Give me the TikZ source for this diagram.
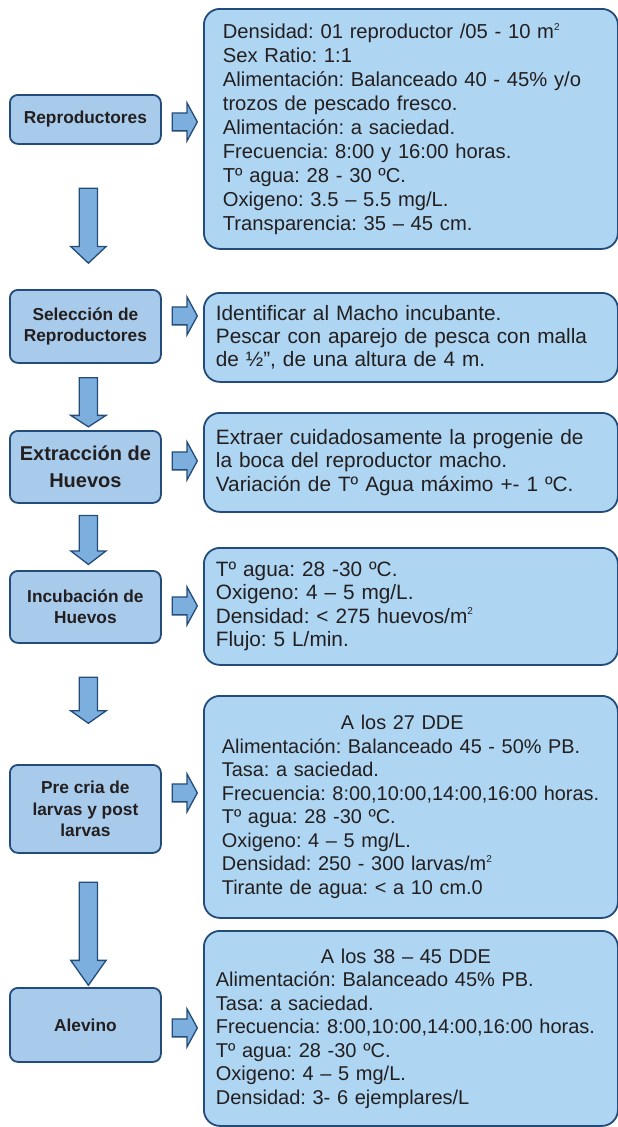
\documentclass[tikz,border=0pt]{standalone}
\usepackage{fontspec}
\setmainfont{Liberation Sans}
\usetikzlibrary{shapes.arrows}
\definecolor{edgeblue}{RGB}{36,76,122}
\definecolor{stepfill}{RGB}{168,203,235}
\definecolor{infofill}{RGB}{174,213,241}
\definecolor{arrowfill}{RGB}{124,175,222}
\definecolor{inktext}{RGB}{35,31,32}
\frenchspacing
\newcommand{\mcuad}{\raisebox{0.8ex}{\fontsize{10}{10}\selectfont 2}}
\tikzset{
  stage/.style={draw=edgeblue, line width=1.8pt, fill=stepfill, rounded corners=8pt,
    anchor=north west, minimum width=151pt, inner sep=0pt, align=center,
    text=inktext, font=\bfseries\fontsize{17.3}{21.5}\selectfont},
  info/.style={draw=edgeblue, line width=1.8pt, fill=infofill, rounded corners=16pt,
    anchor=north west, inner xsep=12pt, inner ysep=0pt, text width=390pt, align=left,
    text=inktext, font=\fontsize{20.8}{23.3}\selectfont},
  rarrow/.style={single arrow, draw=edgeblue, line width=1.3pt, fill=arrowfill,
    inner xsep=0pt, inner ysep=8.3pt, minimum height=25pt,
    single arrow head extend=10pt, single arrow tip angle=123},
  darrow/.style={single arrow, draw=edgeblue, line width=1.3pt, fill=arrowfill,
    inner xsep=0pt, inner ysep=8.5pt, rotate=-90,
    single arrow head extend=8.5pt, single arrow tip angle=#1},
  darrow/.default=100
}
\begin{document}
\begin{tikzpicture}[x=1pt, y=-1pt]
  \useasboundingbox (0,0) rectangle (618,1127);
  % Etapas
  \node[stage, minimum height=49pt] (rep) at (9,94) {Reproductores};
  \node[stage, minimum height=73pt] (sel) at (9,289) {Selección de\\Reproductores};
  \node[stage, minimum height=72pt, font=\bfseries\fontsize{20}{27}\selectfont] (ext) at (9,430) {Extracción de\\Huevos};
  \node[stage, minimum height=72pt] (inc) at (9,570) {Incubación de\\Huevos};
  \node[stage, minimum height=88pt] (pre) at (9,764) {Pre cria de\\larvas y post\\larvas};
  \node[stage, minimum height=74pt] (ale) at (9,987) {Alevino};
  % Detalles de cada etapa
  \node[info, minimum height=240pt, inner xsep=19pt, text width=376pt, font=\fontsize{20.2}{24}\selectfont] (d1) at (203,8)
    {Densidad: 01 reproductor /05 - 10 m\mcuad\\
     Sex Ratio: 1:1\\
     Alimentación: Balanceado 40 - 45\% y/o\\
     trozos de pescado fresco.\\
     Alimentación: a saciedad.\\
     Frecuencia: 8:00 y 16:00 horas.\\
     Tº agua: 28 - 30 ºC.\\
     Oxigeno: 3.5 – 5.5 mg/L.\\
     Transparencia: 35 – 45 cm.};
  \node[info, minimum height=89pt] (d2) at (203,292)
    {Identificar al Macho incubante.\\
     Pescar con aparejo de pesca con malla\\
     de ½”, de una altura de 4 m.};
  \node[info, minimum height=99pt] (d3) at (203,412)
    {Extraer cuidadosamente la progenie de\\
     la boca del reproductor macho.\\
     Variación de Tº Agua máximo +- 1 ºC.};
  \node[info, minimum height=117pt] (d4) at (203,547)
    {Tº agua: 28 -30 ºC.\\
     Oxigeno: 4 – 5 mg/L.\\
     Densidad: < 275 huevos/m\mcuad\\
     Flujo: 5 L/min.};
  \node[info, minimum height=222pt, inner xsep=18pt, text width=378pt, font=\fontsize{19.9}{23.5}\selectfont] (d5) at (203,695)
    {\hspace*{119pt}A los 27 DDE\\
     Alimentación: Balanceado 45 - 50\% PB.\\
     Tasa: a saciedad.\\
     Frecuencia: 8:00,10:00,14:00,16:00 horas.\\
     Tº agua: 28 -30 ºC.\\
     Oxigeno: 4 – 5 mg/L.\\
     Densidad: 250 - 300 larvas/m\mcuad\\
     Tirante de agua: < a 10 cm.0};
  \node[info, minimum height=195pt, font=\fontsize{20}{23.5}\selectfont] (d6) at (203,930)
    {\hspace*{105pt}A los 38 – 45 DDE\\
     Alimentación: Balanceado 45\% PB.\\
     Tasa: a saciedad.\\
     Frecuencia: 8:00,10:00,14:00,16:00 horas.\\
     Tº agua: 28 -30 ºC.\\
     Oxigeno: 4 – 5 mg/L.\\
     Densidad: 3- 6 ejemplares/L};
  % Flechas hacia los detalles
  \path (rep.east) -- (rep.east -| d1.west) node[midway, rarrow, yshift=-2.5pt] {};
  \path (sel.east) -- (sel.east -| d2.west) node[midway, rarrow, yshift=10.5pt] {};
  \path (ext.east) -- (ext.east -| d3.west) node[midway, rarrow, yshift=6pt] {};
  \path (inc.east) -- (inc.east -| d4.west) node[midway, rarrow, yshift=1pt] {};
  \path (pre.east) -- (pre.east -| d5.west) node[midway, rarrow, yshift=16pt] {};
  \path (ale.east) -- (ale.east -| d6.west) node[midway, rarrow, yshift=-3pt] {};
  % Flechas entre etapas
  \path ([xshift=3pt]rep.south) -- ([xshift=3pt]rep.south |- sel.north) node[pos=0.531, darrow=93.5, minimum height=75pt] {};
  \path ([xshift=3pt]sel.south) -- ([xshift=3pt]sel.south |- ext.north) node[pos=0.537, darrow=114, minimum height=49pt] {};
  \path ([xshift=3pt]ext.south) -- ([xshift=3pt]ext.south |- inc.north) node[pos=0.493, darrow=105, minimum height=49pt] {};
  \path ([xshift=3pt]inc.south) -- ([xshift=3pt]inc.south |- pre.north) node[pos=0.443, darrow=109.5, minimum height=46pt] {};
  \path ([xshift=3pt]pre.south) -- ([xshift=3pt]pre.south |- ale.north) node[pos=0.552, darrow=70.6, minimum height=103pt] {};
\end{tikzpicture}
\end{document}
